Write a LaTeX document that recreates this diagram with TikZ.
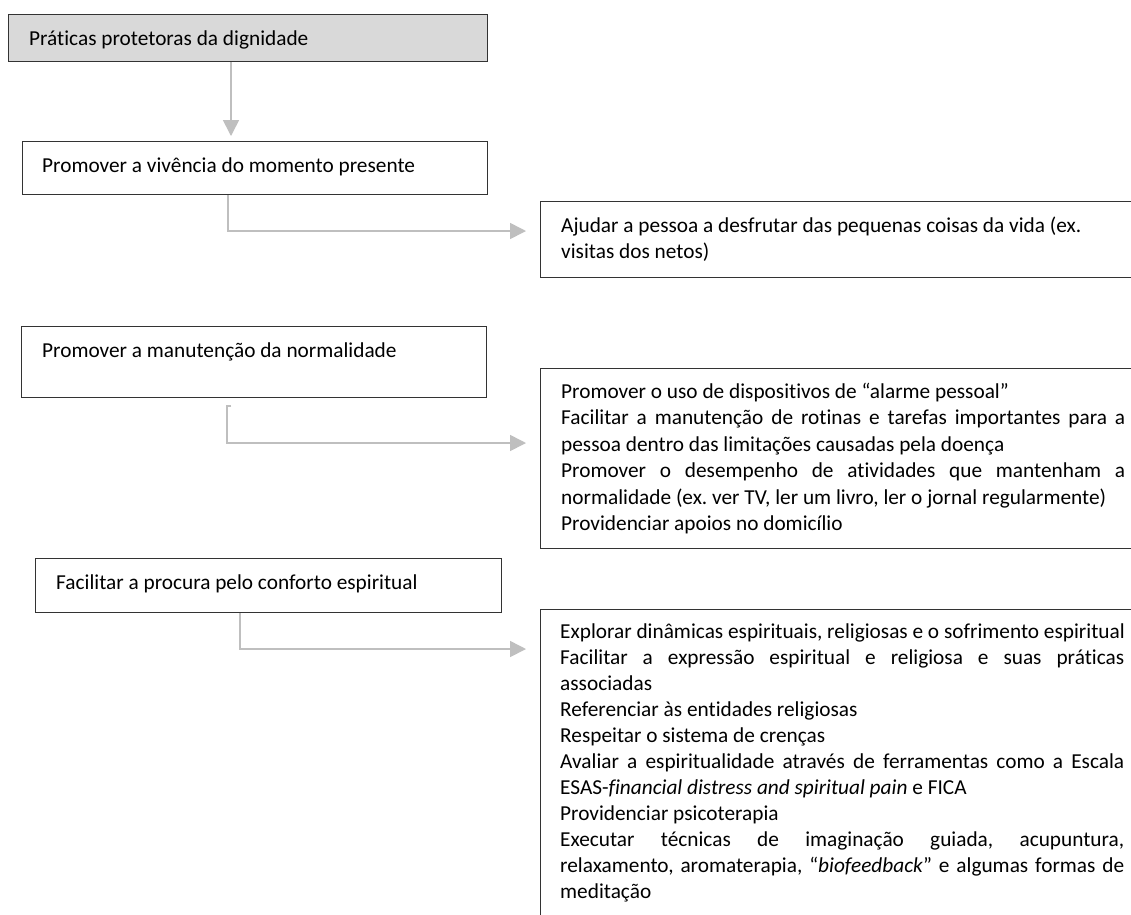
\documentclass[tikz,border=0pt]{standalone}
\usepackage{fontspec}
\setmainfont{Carlito}[Ligatures=NoCommon]
\usetikzlibrary{arrows.meta,calc}
\newcommand{\jline}[1]{\makebox[564pt][s]{#1}}
\frenchspacing
\begin{document}
\begin{tikzpicture}[x=1pt,y=-1pt,
  box/.style={draw=black!80,line width=1.2pt,rectangle,inner sep=0pt,anchor=north west},
  txt/.style={anchor=base west,inner sep=0pt,font=\fontsize{21.3pt}{26pt}\selectfont\frenchspacing,text=black},
  conn/.style={draw=black!25,line width=1.6pt},
  arr/.style={conn,-{Triangle[length=16pt,width=16pt]}},
]
\useasboundingbox (0,0) rectangle (1131,914);
\fill[white] (0,0) rectangle (1131,914);
\clip (0,0) rectangle (1131,914);

% boxes
\node[box,fill=black!15,minimum width=479pt,minimum height=47pt] (b1) at (8,14) {};
\node[box,minimum width=465pt,minimum height=53pt] (b2) at (22,141) {};
\node[box,minimum width=605pt,minimum height=76pt] (b3) at (540,201) {};
\node[box,minimum width=465pt,minimum height=71pt] (b4) at (21,326) {};
\node[box,minimum width=605pt,minimum height=180pt] (b5) at (540,368) {};
\node[box,minimum width=466pt,minimum height=54pt] (b6) at (35,558) {};
\node[box,minimum width=605pt,minimum height=330pt] (b7) at (540,609) {};

% texts
\node[txt] (t1) at (29,45) {Práticas protetoras da dignidade};
\node[txt] (t2) at (42,172) {Promover a vivência do momento presente};
\node[txt] (t3a) at (561,232) {Ajudar a pessoa a desfrutar das pequenas coisas da vida (ex.};
\node[txt] (t3b) at (561,258) {visitas dos netos)};
\node[txt] (t4) at (42,357) {Promover a manutenção da normalidade};
\node[txt] (t5a) at (561,398) {Promover o uso de dispositivos de “alarme pessoal”};
\node[txt] (t5b) at (561,424.5) {\jline{Facilitar a manutenção de rotinas e tarefas importantes para a}};
\node[txt] (t5c) at (561,451) {pessoa dentro das limitações causadas pela doença};
\node[txt] (t5d) at (561,477.5) {\jline{Promover o desempenho de atividades que mantenham a}};
\node[txt] (t5e) at (561,504) {normalidade (ex. ver TV, ler um livro, ler o jornal regularmente)};
\node[txt] (t5f) at (561,530) {Providenciar apoios no domicílio};
\node[txt] (t6) at (56,589) {Facilitar a procura pelo conforto espiritual};
\node[txt] (t7a) at (560,638) {Explorar dinâmicas espirituais, religiosas e o sofrimento espiritual};
\node[txt] (t7b) at (560,664) {\jline{Facilitar a expressão espiritual e religiosa e suas práticas}};
\node[txt] (t7c) at (560,690) {associadas};
\node[txt] (t7d) at (560,716) {Referenciar às entidades religiosas};
\node[txt] (t7e) at (560,742) {Respeitar o sistema de crenças};
\node[txt] (t7f) at (560,768) {\jline{Avaliar a espiritualidade através de ferramentas como a Escala}};
\node[txt] (t7g) at (560,794) {ESAS-\textit{financial distress and spiritual pain} e FICA};
\node[txt] (t7h) at (560,820) {Providenciar psicoterapia};
\node[txt] (t7i) at (560,846) {\jline{Executar técnicas de imaginação guiada, acupuntura,}};
\node[txt] (t7j) at (560,872) {\jline{relaxamento, aromaterapia, “\textit{biofeedback}” e algumas formas de}};
\node[txt] (t7k) at (560,898) {meditação};

% connector guide coordinates
\coordinate (k1) at (231,0);
\coordinate (k2) at (228,231);
\coordinate (k4) at (227,443);
\coordinate (k6) at (240,649);

% connectors
\draw[arr] (b1.south -| k1) -- ($(b2.north -| k1)+(0,-5)$);
\draw[arr] (b2.south -| k2) |- ($(b3.west |- k2)+(-14,0)$);
\draw[arr] ($(b4.south -| k4)+(4,8)$) -- ($(b4.south -| k4)+(0,8)$) |- ($(b5.west |- k4)+(-14,0)$);
\draw[arr] (b6.south -| k6) |- ($(b7.west |- k6)+(-14,0)$);
\end{tikzpicture}
\end{document}
